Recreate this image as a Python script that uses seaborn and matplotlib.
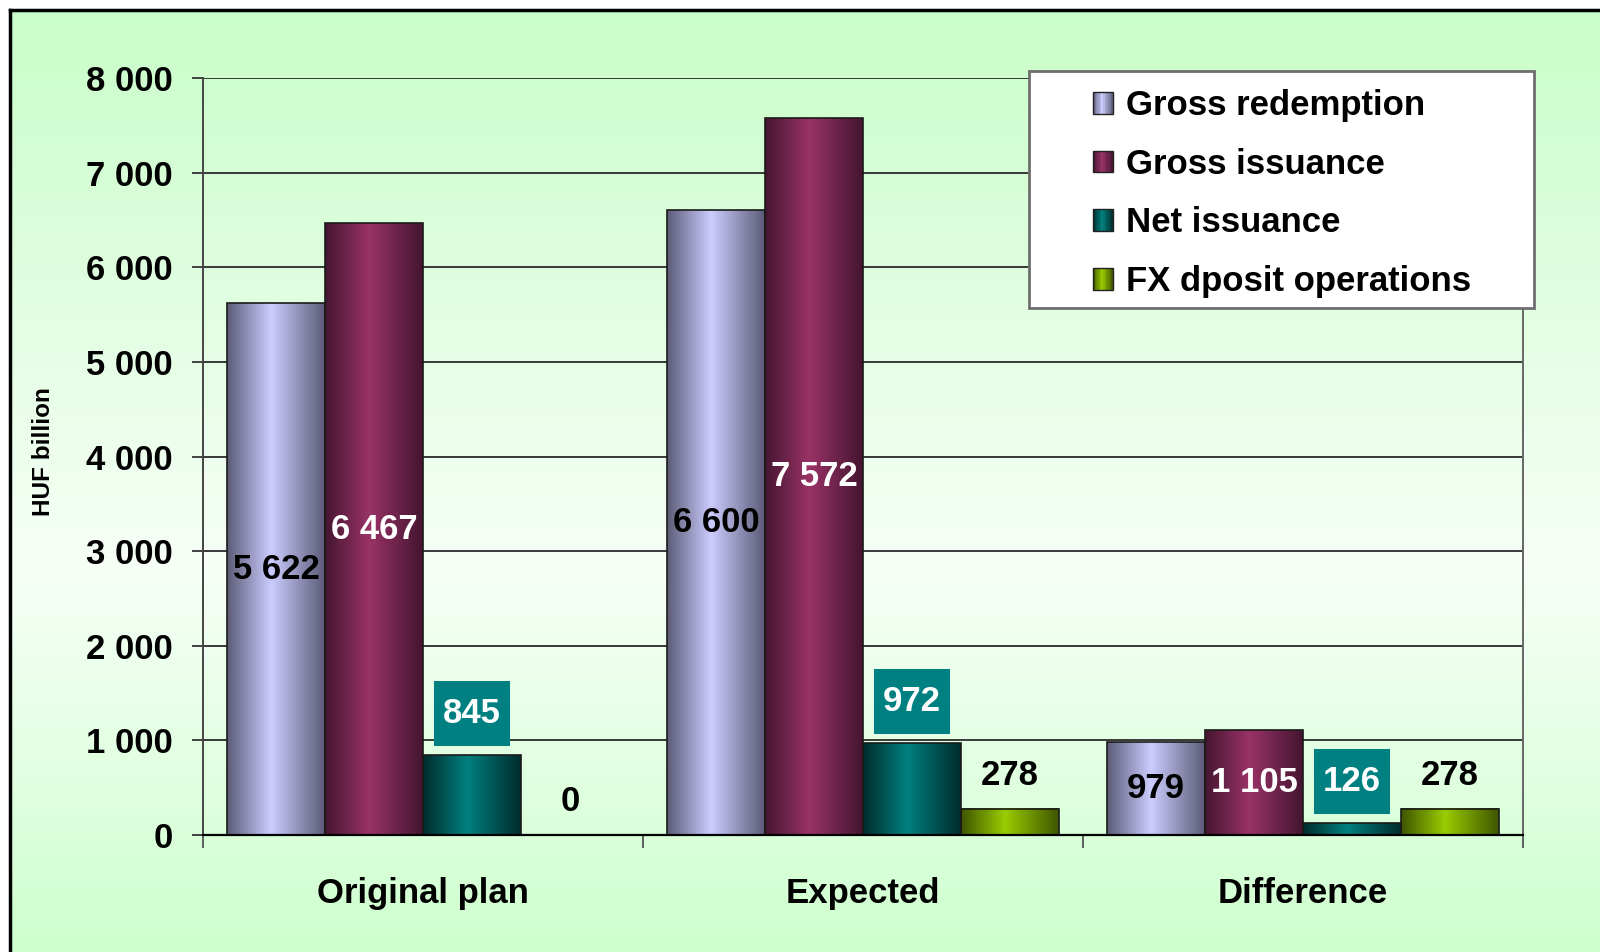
import numpy as np
import pandas as pd
import matplotlib
matplotlib.use("Agg")
import matplotlib.pyplot as plt
import seaborn as sns
from matplotlib.colors import LinearSegmentedColormap
from matplotlib.patches import Rectangle, Patch
from matplotlib.path import Path
from matplotlib.legend_handler import HandlerBase

# ---------------- data ----------------
categories = ["Original plan", "Expected", "Difference"]
series = ["Gross redemption", "Gross issuance", "Net issuance", "FX dposit operations"]
gross_redemption = [5622, 6600, 979]
gross_issuance = [6467, 7572, 1105]
net_issuance = [845, 972, 126]
fx_deposit = [0, 278, 278]
y_ticks = [0, 1000, 2000, 3000, 4000, 5000, 6000, 7000, 8000]
y_label = "HUF billion"

# ---------------- style ----------------
light = ["#ccccff", "#993366", "#008080", "#99cc00"]
dark = ["#5c5c78", "#451530", "#002c2c", "#3f5600"]

sns.set_theme(style="white")
plt.rcParams["font.family"] = ["Liberation Sans", "DejaVu Sans"]
plt.rcParams["font.weight"] = "bold"
plt.rcParams["text.color"] = "black"

W, H = 1600, 952
FS = 25
fig = plt.figure(figsize=(16, 9.52), dpi=100)
fig.patch.set_facecolor("white")

# background gradient panel
bg = fig.add_axes([10 / W, -0.02, 1.0, 1 - 10 / H + 0.02], zorder=0)
bg_cmap = LinearSegmentedColormap.from_list(
    "bg", [(0, "#c9fdc9"), (0.58, "#f7fff7"), (1, "#ccffcc")])
grad = np.linspace(0, 1, 400).reshape(-1, 1)
bg.imshow(grad, cmap=bg_cmap, extent=[0, 1, 0, 1], aspect="auto", origin="upper")
bg.set_xlim(0, 1)
bg.set_ylim(0, 1)
bg.set_xticks([])
bg.set_yticks([])
for s in ["right", "bottom"]:
    bg.spines[s].set_visible(False)
for s in ["left", "top"]:
    bg.spines[s].set_color("black")
    bg.spines[s].set_linewidth(2.5)

# main axes
ax = fig.add_axes([203 / W, 1 - 835 / H, 1320 / W, 757 / H], zorder=2)
ax.patch.set_alpha(0)

df = pd.DataFrame({
    "category": categories * 4,
    "series": [s for s in series for _ in categories],
    "value": gross_redemption + gross_issuance + net_issuance + fx_deposit,
})

sns.barplot(data=df, x="category", y="value", hue="series", order=categories,
            hue_order=series, palette=light, saturation=1, width=0.89,
            edgecolor="#1a1a1a", linewidth=1.2, ax=ax, legend=False)

ax.set_axisbelow(True)
ax.yaxis.grid(True, color="#2a2a2a", linewidth=1.3)
ax.xaxis.grid(False)


def fmt(v):
    return f"{v:,}".replace(",", " ")


def tallbox(x0, y0, width, height, mutation_size):
    px = 0.25 * mutation_size
    py = 0.47 * mutation_size
    verts = [(x0 - px, y0 - py), (x0 + width + px, y0 - py),
             (x0 + width + px, y0 + height + py), (x0 - px, y0 + height + py),
             (x0 - px, y0 - py)]
    return Path(verts, closed=True)


cmaps = [LinearSegmentedColormap.from_list(
    f"c{i}", [(0, dark[i]), (0.45, light[i]), (1, dark[i])]) for i in range(4)]

for i, cont in enumerate(ax.containers):
    row = np.linspace(0, 1, 200).reshape(1, -1)
    for bar in cont:
        x0, w, h = bar.get_x(), bar.get_width(), bar.get_height()
        bar.set_facecolor("none")
        bar.set_zorder(1.5)
        if h > 0:
            ax.imshow(row, cmap=cmaps[i], extent=[x0, x0 + w, 0, h],
                      aspect="auto", zorder=1.2, interpolation="bilinear")
        cx = x0 + w / 2
        if i == 0:
            ax.text(cx, h / 2, fmt(int(h)), ha="center", va="center",
                    color="black", fontsize=FS, fontweight="bold", zorder=4)
        elif i == 1:
            ax.text(cx, h / 2, fmt(int(h)), ha="center", va="center",
                    color="white", fontsize=FS, fontweight="bold", zorder=4)
        elif i == 2:
            ax.annotate(fmt(int(h)), (cx, h), xytext=(0, 30),
                        textcoords="offset points", ha="center", va="center",
                        color="white", fontsize=FS, fontweight="bold", zorder=4,
                        bbox=dict(boxstyle=tallbox, fc="#008080", ec="none"))
        else:
            ax.annotate(fmt(int(h)), (cx, h), xytext=(0, 24),
                        textcoords="offset points", ha="center", va="center",
                        color="black", fontsize=FS, fontweight="bold", zorder=4)

ax.set_xlim(-0.5, 2.5)
ax.set_ylim(0, 8000)
ax.set_yticks(y_ticks)
ax.set_yticklabels([fmt(t) for t in y_ticks])
ax.set_xticks(range(len(categories)))
ax.set_xticklabels(categories)
ax.set_xticks([-0.5, 0.5, 1.5, 2.5], minor=True)
ax.set_xlabel("")
ax.set_ylabel("")

ax.tick_params(axis="y", which="major", left=True, length=8, width=1.3,
               color="#333333", pad=14, labelsize=FS, labelcolor="black")
ax.tick_params(axis="x", which="major", bottom=False, length=0, pad=30,
               labelsize=FS, labelcolor="black")
ax.tick_params(axis="x", which="minor", bottom=True, length=9, width=1.3,
               color="#555555", direction="out")
for lbl in ax.get_xticklabels() + ax.get_yticklabels():
    lbl.set_fontweight("bold")

ax.spines["top"].set_visible(False)
ax.spines["left"].set_color("#444444")
ax.spines["left"].set_linewidth(1.4)
ax.spines["right"].set_color("#666666")
ax.spines["right"].set_linewidth(1.4)
ax.spines["bottom"].set_color("black")
ax.spines["bottom"].set_linewidth(1.6)

fig.text(44 / W, 1 - 452 / H, y_label, rotation=90, ha="center", va="center",
         fontsize=17.5, fontweight="bold", color="black")

# legend box
frame = Rectangle((1029 / W, 1 - 308 / H), 505 / W, 237 / H,
                  transform=fig.transFigure, facecolor="white",
                  edgecolor="#6e6e6e", linewidth=2, zorder=3)
fig.patches.append(frame)


class GradientHandler(HandlerBase):
    def __init__(self, idx):
        super().__init__()
        self.idx = idx

    def create_artists(self, legend, orig_handle, xdescent, ydescent,
                       width, height, fontsize, trans):
        n = 12
        arts = []
        for k in range(n):
            c = cmaps[self.idx]((k + 0.5) / n)
            r = Rectangle((-xdescent + width * k / n, -ydescent), width / n + 0.01,
                          height, facecolor=c, edgecolor="none", transform=trans)
            arts.append(r)
        arts.append(Rectangle((-xdescent, -ydescent), width, height,
                              facecolor="none", edgecolor="#222222",
                              linewidth=1.0, transform=trans))
        return arts


handles = [Patch(facecolor=light[i], edgecolor="#222222", linewidth=1.0,
                 label=series[i]) for i in range(4)]
leg = fig.legend(handles=handles, loc="upper left",
                 bbox_to_anchor=(1093 / W, 1 - 89 / H), frameon=False,
                 borderpad=0, borderaxespad=0, labelspacing=0.74,
                 handlelength=0.58, handleheight=0.58, handletextpad=0.37,
                 handler_map={handles[i]: GradientHandler(i) for i in range(4)},
                 prop={"size": FS, "weight": "bold"})
leg.set_zorder(5)
for t in leg.get_texts():
    t.set_color("black")

fig.savefig("out.png", dpi=100)
